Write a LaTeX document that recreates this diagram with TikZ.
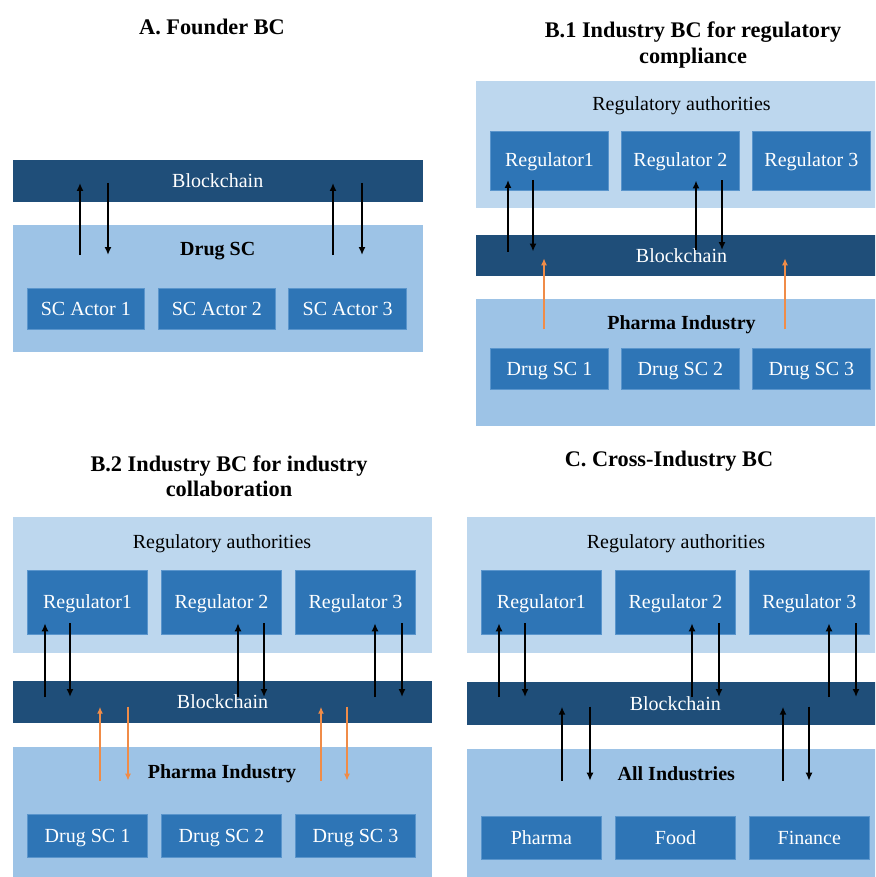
\documentclass[tikz,border=0pt]{standalone}
\usepackage{fontspec}
\setmainfont{Liberation Serif}
\usetikzlibrary{arrows.meta}

\definecolor{paleblue}{HTML}{BDD7EE}
\definecolor{midblue}{HTML}{9DC3E6}
\definecolor{unitblue}{HTML}{2E75B6}
\definecolor{unitedge}{HTML}{5A95CC}
\definecolor{chainblue}{HTML}{1F4E79}
\definecolor{flowor}{HTML}{F08C48}

% box given by its corners (x1,y1) and (x2,y2)
\newcommand{\mkbox}[7]{%
  \pgfmathsetmacro{\mkW}{#5-#3}\pgfmathsetmacro{\mkH}{#6-#4}%
  \pgfmathsetmacro{\mkX}{(#3+#5)/2}\pgfmathsetmacro{\mkY}{(#4+#6)/2}%
  \node[#2, minimum width=\mkW pt, minimum height=\mkH pt] (#1) at (\mkX,\mkY) {#7};}

% pair of opposite arrows: up at x=#2, down at x=#3, between y=#4 (top) and y=#5 (bottom)
\newcommand{\twoway}[6]{%
  \coordinate (#1ub) at (#2,#5); \coordinate (#1ut) at (#2,#4);
  \coordinate (#1dt) at (#3,#4); \coordinate (#1db) at (#3,#5);
  \draw[#6] (#1ub) -- (#1ut);
  \draw[#6] (#1dt) -- (#1db);}

% single upward arrow
\newcommand{\oneup}[5]{%
  \coordinate (#1ub) at (#2,#4); \coordinate (#1ut) at (#2,#3);
  \draw[#5] (#1ub) -- (#1ut);}

\begin{document}
\begin{tikzpicture}[x=1pt,y=-1pt,
  every node/.style={inner sep=0pt, outer sep=0pt, font=\fontsize{20}{24}\selectfont},
  palebox/.style={rectangle, fill=paleblue},
  midbox/.style={rectangle, fill=midblue},
  unitbox/.style={rectangle, fill=unitblue, draw=unitedge, line width=0.7pt,
                  text=white, text height=13pt, text depth=0pt},
  chainbox/.style={rectangle, fill=chainblue, text=white, text height=13pt, text depth=0pt},
  heading/.style={font=\fontsize{22.3}{25.5}\selectfont\bfseries, align=center},
  caption/.style={text height=13pt, text depth=0pt},
  bcap/.style={font=\fontsize{20}{24}\selectfont\bfseries, text height=13pt, text depth=0pt},
  barr/.style={line width=2pt, black, -{Latex[length=8pt,width=7pt]}},
  oarr/.style={line width=1.4pt, flowor, -{Latex[length=7pt,width=6pt]}}]

\useasboundingbox (0,0) rectangle (875,877);
\clip (0,0) rectangle (875,877);

% ---------------- A. Founder BC ----------------
\node[heading] (tA) at (212,26.5) {A. Founder BC};
\mkbox{bcA}{chainbox}{12.7}{160}{422.7}{202.3}{Blockchain}
\mkbox{scA}{midbox}{12.7}{225}{422.7}{352}{}
\node[bcap] (scAt) at (217.7,249) {Drug SC};
\mkbox{actA1}{unitbox}{27.3}{288.3}{144.3}{329.3}{SC Actor 1}
\mkbox{actA2}{unitbox}{158}{288.3}{275.7}{329.3}{SC Actor 2}
\mkbox{actA3}{unitbox}{288.7}{288.3}{406.7}{329.3}{SC Actor 3}
\twoway{aA1}{80}{108}{183}{255}{barr}
\twoway{aA2}{333}{362}{183}{255}{barr}

% ---------------- B.1 Industry BC for regulatory compliance ----------------
\node[heading] (tB1) at (693,45) {B.1 Industry BC for regulatory\\compliance};
\mkbox{regB1}{palebox}{476}{81}{887}{207.7}{}
\node[caption] (regB1t) at (681.5,104) {Regulatory authorities};
\mkbox{rB11}{unitbox}{490.7}{131}{608.3}{190}{Regulator1}
\mkbox{rB12}{unitbox}{621.7}{131}{739}{190}{Regulator 2}
\mkbox{rB13}{unitbox}{752.7}{131}{870}{190}{Regulator 3}
\mkbox{bcB1}{chainbox}{476}{235}{887}{276}{Blockchain}
\mkbox{phB1}{midbox}{476}{299}{887}{426}{}
\node[bcap] (phB1t) at (681.5,322.5) {Pharma Industry};
\mkbox{dB11}{unitbox}{490.7}{348.3}{608.3}{389}{Drug SC 1}
\mkbox{dB12}{unitbox}{621.7}{348.3}{739}{389}{Drug SC 2}
\mkbox{dB13}{unitbox}{752.7}{348.3}{870}{389}{Drug SC 3}
\twoway{aB11}{508}{533}{180}{251.5}{barr}
\twoway{aB12}{696}{722}{180.5}{250}{barr}
\oneup{oB11}{544}{258.3}{329.3}{oarr}
\oneup{oB12}{785}{258.3}{329.3}{oarr}

% ---------------- B.2 Industry BC for industry collaboration ----------------
\node[heading] (tB2) at (229,476.5) {B.2 Industry BC for industry\\collaboration};
\mkbox{regB2}{palebox}{12.7}{517.3}{432.3}{652.7}{}
\node[caption] (regB2t) at (222,542) {Regulatory authorities};
\mkbox{rB21}{unitbox}{27.3}{570.7}{147.7}{634}{Regulator1}
\mkbox{rB22}{unitbox}{161.7}{570.7}{281.3}{634}{Regulator 2}
\mkbox{rB23}{unitbox}{295.3}{570.7}{415.7}{634}{Regulator 3}
\mkbox{bcB2}{chainbox}{12.7}{680.7}{432.3}{723.3}{Blockchain}
\mkbox{phB2}{midbox}{12.7}{747.3}{432.3}{890}{}
\node[bcap] (phB2t) at (222,772) {Pharma Industry};
\mkbox{dB21}{unitbox}{27.3}{814.3}{147.7}{857.3}{Drug SC 1}
\mkbox{dB22}{unitbox}{161.7}{814.3}{281.3}{857.3}{Drug SC 2}
\mkbox{dB23}{unitbox}{295.3}{814.3}{415.7}{857.3}{Drug SC 3}
\twoway{aB21}{45}{70}{623.3}{697}{barr}
\twoway{aB22}{238}{264}{623.3}{697}{barr}
\twoway{aB23}{375}{402}{623.3}{697}{barr}
\twoway{oB21}{100}{128}{706.7}{780.7}{oarr}
\twoway{oB22}{321}{347}{706.7}{780.7}{oarr}

% ---------------- C. Cross-Industry BC ----------------
\node[heading] (tC) at (669,461.5) {C. Cross-Industry BC};
\mkbox{regC}{palebox}{466.7}{517.3}{884}{652.7}{}
\node[caption] (regCt) at (676,542) {Regulatory authorities};
\mkbox{rC1}{unitbox}{481}{570.7}{601.7}{634}{Regulator1}
\mkbox{rC2}{unitbox}{615.7}{570.7}{735.3}{634}{Regulator 2}
\mkbox{rC3}{unitbox}{749.3}{570.7}{869.3}{634}{Regulator 3}
\mkbox{bcC}{chainbox}{466.7}{682.3}{884}{725}{Blockchain}
\mkbox{allC}{midbox}{466.7}{749}{884}{890}{}
\node[bcap] (allCt) at (676.3,774) {All Industries};
\mkbox{iC1}{unitbox}{481}{816}{601.7}{859.3}{Pharma}
\mkbox{iC2}{unitbox}{615.7}{816}{735.3}{859.3}{Food}
\mkbox{iC3}{unitbox}{749.3}{816}{869.3}{859.3}{Finance}
\twoway{aC1}{499}{525}{623.3}{697}{barr}
\twoway{aC2}{692}{719}{623.3}{697}{barr}
\twoway{aC3}{829}{856}{623.3}{697}{barr}
\twoway{aC4}{562}{590}{706.7}{780.7}{barr}
\twoway{aC5}{783}{809}{706.7}{780.7}{barr}

\end{tikzpicture}
\end{document}
